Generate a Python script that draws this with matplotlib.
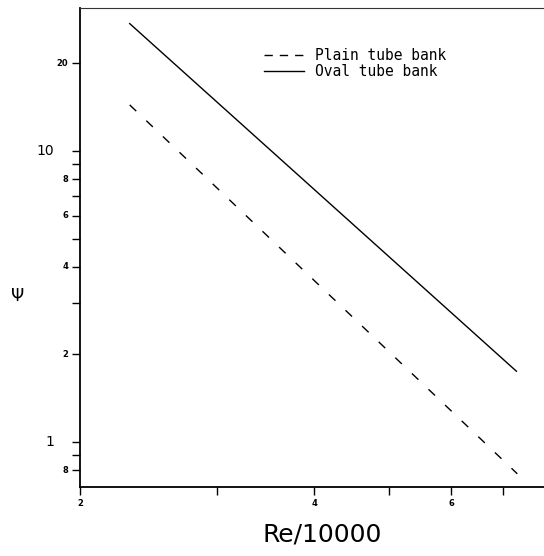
import matplotlib
matplotlib.use("Agg")
import matplotlib.pyplot as plt
from matplotlib.lines import Line2D
from matplotlib.transforms import blended_transform_factory

# Data
re_plain = [2.317, 7.30]
psi_plain = [14.4, 0.777]
re_oval = [2.317, 7.28]
psi_oval = [27.4, 1.75]

y_ticks = [20, 10, 9, 8, 7, 6, 5, 4, 3, 2, 1, 0.9, 0.8]
y_labels = {20: "20", 10: "10", 8: "8", 6: "6", 4: "4", 2: "2", 1: "1", 0.8: "8"}
y_big = [10, 1]
x_ticks = [2, 3, 4, 5, 6, 7]
x_labels = {2: "2", 4: "4", 6: "6"}

fig = plt.figure(figsize=(5.44, 5.56), dpi=100)
ax = fig.add_axes([80/544, 69/556, 1 - 80/544, 479/556])
ax.set_xscale("log")
ax.set_yscale("log")
ax.set_xlim(2, 7.9)
ax.set_ylim(0.7, 31)

ax.plot(re_plain, psi_plain, color="black", lw=1.0, linestyle=(0, (6.5, 10)))
ax.plot(re_oval, psi_oval, color="black", lw=1.0, linestyle="-")

ax.spines["right"].set_visible(False)
for s in ["left", "bottom"]:
    ax.spines[s].set_linewidth(1.3)
ax.spines["top"].set_linewidth(0.8)
ax.spines["top"].set_color("#333333")

ax.minorticks_off()
ax.set_yticks(y_ticks)
ax.set_yticklabels([])
ax.set_xticks(x_ticks)
ax.set_xticklabels([])
ax.tick_params(axis="both", which="major", direction="out", length=6, width=1.0)

ty = blended_transform_factory(ax.transAxes, ax.transData)
for v, lab in y_labels.items():
    if v in y_big:
        ax.text(-0.055, v, lab, transform=ty, ha="right", va="center", fontsize=10)
    else:
        ax.text(-0.025, v, lab, transform=ty, ha="right", va="center", fontsize=6, fontweight="bold")

tx = blended_transform_factory(ax.transData, ax.transAxes)
for v, lab in x_labels.items():
    ax.text(v, -0.025, lab, transform=tx, ha="center", va="top", fontsize=6, fontweight="bold")

fig.text(322/544, 1 - 534/556, "Re/10000", ha="center", va="center", fontsize=18)
fig.text(18/544, 1 - 296/556, "Ψ", ha="center", va="center", fontsize=12)

handles = [Line2D([], [], color="black", lw=1.0, linestyle=(0, (6, 5))),
           Line2D([], [], color="black", lw=1.0, linestyle="-")]
ax.legend(handles, ["Plain tube bank", "Oval tube bank"], loc="upper left",
          bbox_to_anchor=((257 - 80) / 464, (487 - 41) / 479), frameon=False,
          prop={"family": "DejaVu Sans Mono", "size": 10.5},
          handlelength=2.7, handletextpad=0.8, labelspacing=0.05, borderpad=0)

fig.savefig("out.png", dpi=100)
